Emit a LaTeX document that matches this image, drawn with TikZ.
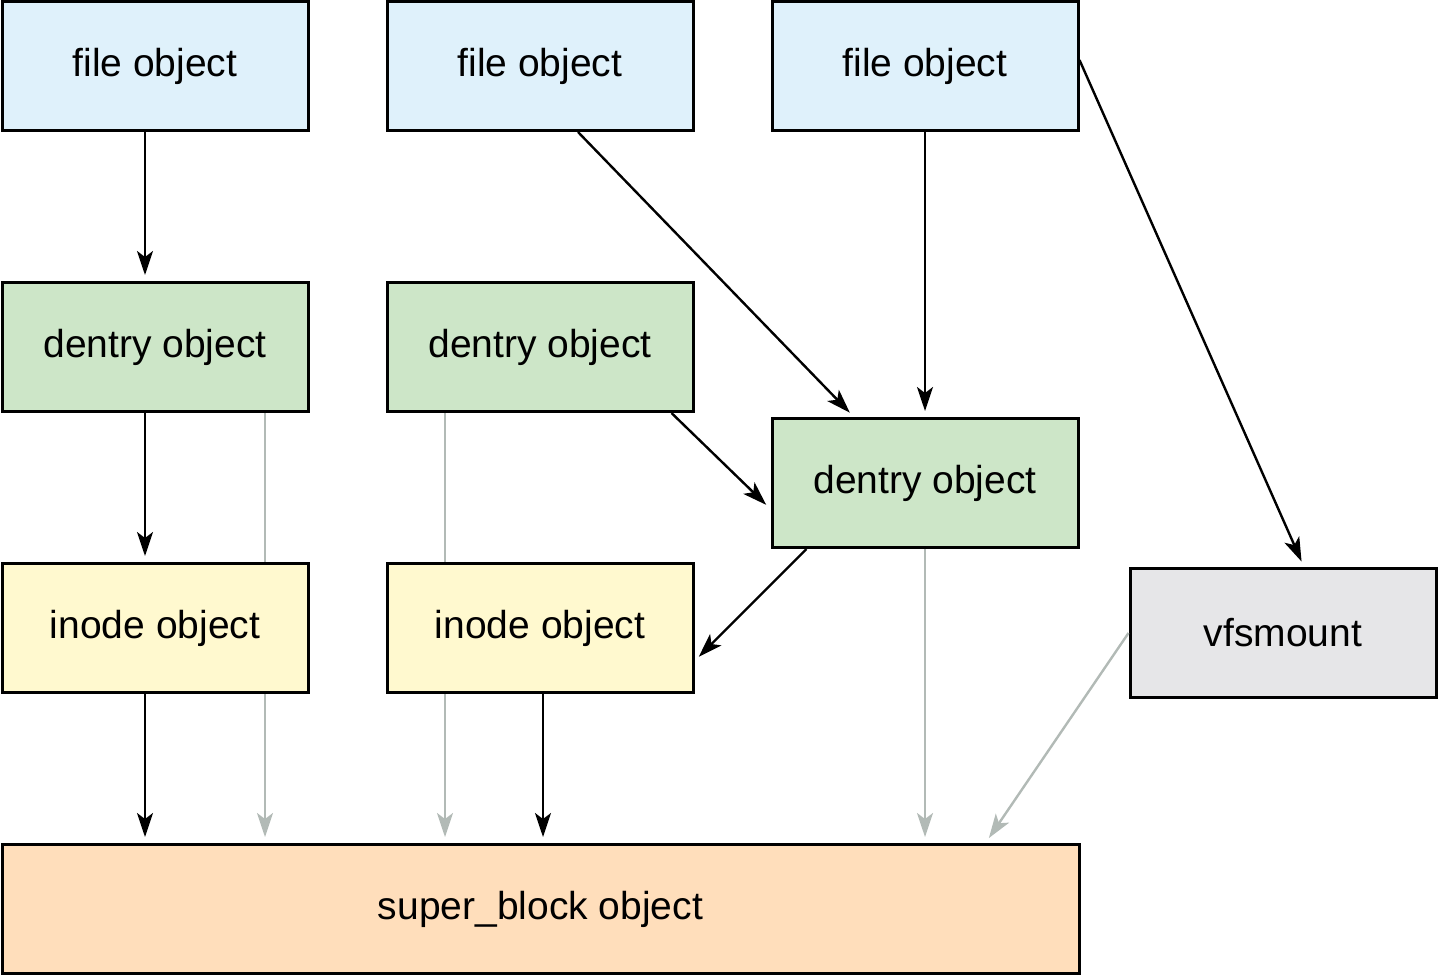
\documentclass[tikz,border=0pt]{standalone}
\usepackage{fontspec}
\setmainfont{Liberation Sans}
\usetikzlibrary{positioning,arrows.meta,backgrounds}

\definecolor{fileblue}{HTML}{DFF1FB}
\definecolor{dentrygreen}{HTML}{CDE6C8}
\definecolor{inodeyellow}{HTML}{FFF9CF}
\definecolor{mntgray}{HTML}{E6E6E8}
\definecolor{superpeach}{HTML}{FFDEBB}
\definecolor{linkgray}{HTML}{B2BAB6}

\begin{document}
\begin{tikzpicture}[
x=0.5pt, y=-0.5pt,
box/.style={draw, line width=1.5pt, minimum width=153pt, minimum height=64.5pt, font=\fontsize{19.5}{23}\selectfont},
arr/.style={-{Stealth[length=12pt,width=8pt,inset=3pt]}, line width=1.2pt, shorten >=3pt},
garr/.style={arr, draw=linkgray},
gline/.style={line width=1.2pt, draw=linkgray}
]
\useasboundingbox (0,0) rectangle (1440,976);
\node[box, fill=fileblue] (file1) at (155,66) {file object};
\node[box, fill=fileblue, right=38pt of file1] (file2) {file object};
\node[box, fill=fileblue, right=38pt of file2] (file3) {file object};
\node[box, fill=dentrygreen, below=74.5pt of file1] (den1) {dentry object};
\node[box, fill=dentrygreen, below=74.5pt of file2] (den2) {dentry object};
\node[box, fill=dentrygreen, below=142.5pt of file3] (den3) {dentry object};
\node[box, fill=inodeyellow, below=74.5pt of den1] (ino1) {inode object};
\node[box, fill=inodeyellow, below=74.5pt of den2] (ino2) {inode object};
\node[box, fill=mntgray, right=24.5pt of den3, yshift=-75pt] (mnt) {vfsmount};
\node[box, fill=superpeach, minimum width=538.5pt, below=74.5pt of ino1.south west, anchor=north west] (sb) {super\_block object};

\draw[arr] ([xshift=-5pt]file1.south) -- ([xshift=-5pt]den1.north);
\draw[arr] ([xshift=19pt]file2.south) -- ([xshift=-35.5pt]den3.north);
\draw[arr] (file3) -- (den3);
\draw[arr] ([yshift=3pt]file3.east) -- ([xshift=10.5pt]mnt.north);
\draw[arr] ([xshift=-5pt]den1.south) -- ([xshift=-5pt]ino1.north);
\draw[arr] ([xshift=-11.5pt]den2.south east) -- ([yshift=-13pt]den3.west);
\draw[arr] ([xshift=18pt]den3.south west) -- ([yshift=-16.5pt]ino2.east);
\draw[arr] ([xshift=-5pt]ino1.south) -- ([xshift=-5pt]ino1.south |- sb.north);
\draw[arr] ([xshift=1.5pt]ino2.south) -- ([xshift=1.5pt]ino2.south |- sb.north);

% links from dentry to super_block run behind the inodes
\begin{scope}[on background layer]
\draw[gline] ([xshift=55pt]den1.south) -- ([xshift=55pt]ino1.north);
\draw[gline] ([xshift=-47.5pt]den2.south) -- ([xshift=-47.5pt]ino2.north);
\end{scope}
\draw[garr] ([xshift=55pt]ino1.south) -- ([xshift=55pt]ino1.south |- sb.north);
\draw[garr] ([xshift=-47.5pt]ino2.south) -- ([xshift=-47.5pt]ino2.south |- sb.north);
\draw[garr] (den3.south) -- (den3.south |- sb.north);
\draw[garr] (mnt.west) -- ([xshift=-47.5pt]sb.north east);
\end{tikzpicture}
\end{document}
